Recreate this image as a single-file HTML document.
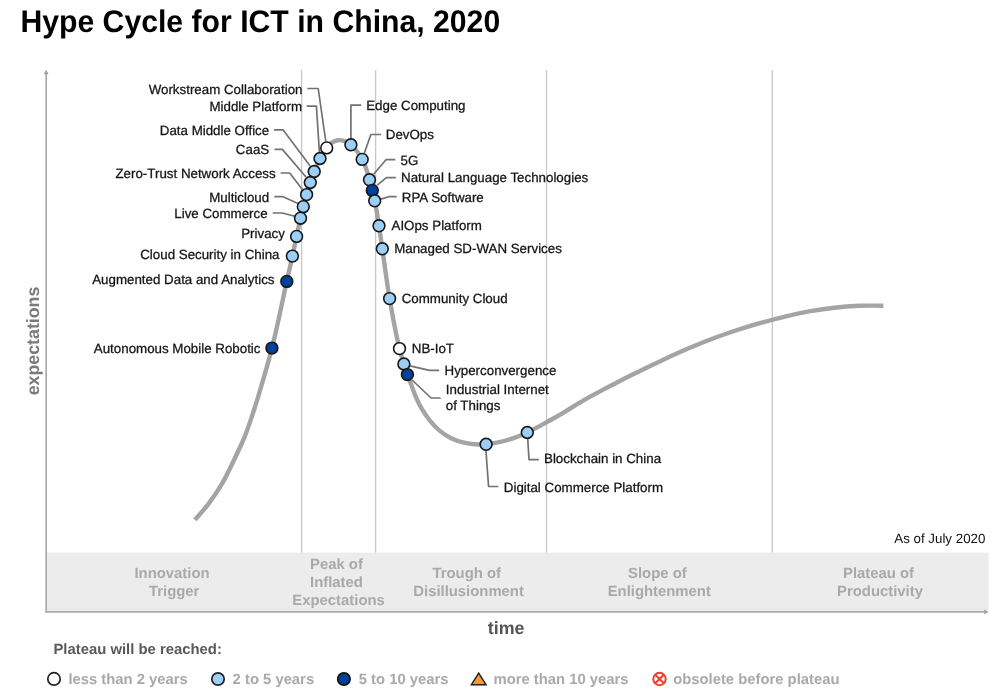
<!DOCTYPE html>
<html lang="en"><head><meta charset="utf-8"><title>Hype Cycle for ICT in China, 2020</title>
<style>
html,body{margin:0;padding:0;background:#fff;}
body{width:998px;height:693px;overflow:hidden;}
svg{display:block;}
text{font-family:"Liberation Sans",Arial,Helvetica,sans-serif;text-rendering:geometricPrecision;}
.lbl{font-size:13.33px;fill:#151515;stroke:#151515;stroke-width:0.28px;}
.ph{font-size:14.87px;font-weight:bold;fill:#a9a9a9;text-anchor:middle;}
.lg{font-size:14.82px;font-weight:bold;fill:#a9a9a9;}
.ld{fill:none;stroke:#727272;stroke-width:1.7;stroke-linejoin:round;}
.mk{stroke:#161616;stroke-width:1.6;}
</style></head><body>
<svg width="998" height="693" viewBox="0 0 998 693">
<rect width="998" height="693" fill="#fff"/>
<text transform="translate(20.4 31.7) scale(1 1.035)" x="0" y="0" style="font-size:30.2px;font-weight:bold;fill:#000;">Hype Cycle for ICT in China, 2020</text>
<rect x="46.2" y="552.6" width="942.3" height="59" fill="#ececec"/>
<line x1="301.6" y1="70" x2="301.6" y2="552.5" stroke="#c8c8c8" stroke-width="1.3"/>
<line x1="375.6" y1="70" x2="375.6" y2="552.5" stroke="#c8c8c8" stroke-width="1.3"/>
<line x1="546.5" y1="70" x2="546.5" y2="552.5" stroke="#c8c8c8" stroke-width="1.3"/>
<line x1="772.3" y1="70" x2="772.3" y2="552.5" stroke="#c8c8c8" stroke-width="1.3"/>
<line x1="46.15" y1="73.5" x2="46.15" y2="612.8" stroke="#a6a6a6" stroke-width="1.6"/>
<path d="M46.2 69.8 L48.6 74.3 L43.8 74.3 Z" fill="#a0a0a0"/>
<line x1="45.4" y1="611.9" x2="984.5" y2="611.9" stroke="#acacac" stroke-width="1.8"/>
<path d="M988.6 611.9 L984.1 614.2 L984.1 609.6 Z" fill="#a0a0a0"/>
<path d="M194.9 519.9 C199.3 514.7 204.0 509.8 208.1 504.4 C212.8 498.3 217.2 491.8 221.2 485.2 C225.9 477.3 229.8 468.8 233.8 460.5 C237.7 452.4 241.6 444.3 245.0 435.9 C248.6 426.9 251.5 417.7 254.5 408.5 C257.0 400.8 259.3 393.0 261.6 385.2 C263.6 378.4 265.6 371.6 267.5 364.7 C269.0 359.2 270.5 353.6 271.9 348.1 C277.6 326.0 281.8 303.6 286.8 281.3 C288.7 272.9 290.6 264.5 292.4 256.1 C293.8 249.5 295.2 243.0 296.6 236.4 C297.9 230.3 299.1 224.2 300.5 218.2 C301.4 214.4 302.3 210.5 303.3 206.7 C304.3 202.7 305.4 198.6 306.6 194.6 C307.8 190.5 309.0 186.5 310.3 182.5 C311.5 178.8 312.8 175.1 314.2 171.5 C315.9 167.1 317.7 162.7 320.0 158.5 C322.0 154.8 324.0 151.1 326.7 147.9 C328.3 146.0 329.8 143.9 331.8 142.6 C333.6 141.4 335.8 140.5 337.9 140.2 C340.1 139.9 342.5 140.4 344.6 141.1 C346.9 141.9 349.0 143.4 350.9 144.8 C355.8 148.4 359.2 154.1 362.2 159.4 C365.7 165.6 367.5 172.9 369.5 179.8 C370.5 183.3 371.4 186.9 372.3 190.4 C373.2 193.9 374.0 197.3 374.7 200.8 C376.5 209.1 377.7 217.4 379.0 225.8 C380.2 233.5 381.2 241.1 382.3 248.8 C384.7 265.4 386.8 282.1 389.6 298.6 C392.5 315.3 395.2 332.2 399.5 348.6 C400.9 353.9 402.4 359.2 404.0 364.4 C405.1 367.8 406.2 371.2 407.4 374.6 C408.5 377.8 409.8 380.9 411.0 384.0 C412.6 388.3 414.0 392.7 415.8 396.9 C417.7 401.3 419.8 405.6 422.3 409.7 C424.7 413.7 427.3 417.5 430.3 421.1 C433.2 424.6 436.4 428.0 439.9 430.9 C443.3 433.7 447.1 436.4 451.1 438.3 C455.1 440.3 459.5 441.6 463.9 442.6 C467.6 443.4 471.4 443.9 475.2 444.2 C478.8 444.5 482.5 444.5 486.1 444.3 C490.5 444.0 494.9 443.1 499.2 442.2 C504.1 441.1 508.9 439.7 513.6 438.1 C518.3 436.5 522.8 434.5 527.3 432.4 C533.8 429.4 540.1 425.8 546.4 422.3 C549.6 420.6 552.8 418.8 556.0 417.0 C559.5 415.0 562.9 412.9 566.4 410.8 C570.4 408.4 574.4 405.8 578.5 403.4 C582.5 401.0 586.5 398.7 590.6 396.4 C594.6 394.2 598.6 392.0 602.7 389.9 C606.7 387.7 610.8 385.8 614.8 383.7 C618.9 381.6 622.9 379.3 627.0 377.3 C631.3 375.1 635.7 373.0 640.0 370.9 C648.1 367.0 656.2 363.0 664.3 359.2 C672.4 355.5 680.5 351.8 688.7 348.3 C696.7 344.9 704.8 341.6 713.0 338.5 C721.0 335.5 729.2 332.7 737.3 330.0 C745.4 327.4 753.5 324.9 761.7 322.6 C769.7 320.4 777.8 318.2 786.0 316.3 C794.0 314.4 802.2 312.7 810.3 311.2 C818.4 309.8 826.5 308.6 834.6 307.7 C842.7 306.8 850.8 306.2 859.0 305.8 C867.1 305.5 875.2 305.7 883.3 305.7" fill="none" stroke="#a4a4a4" stroke-width="4.4" stroke-linecap="butt" stroke-linejoin="round"/>
<polyline class="ld" points="307.3,88.5 318.2,88.5 325.8,141.5"/>
<polyline class="ld" points="306.7,106.1 316.4,106.1 319.4,152.4"/>
<polyline class="ld" points="274.0,129.8 283.0,129.8 310.0,165.8"/>
<polyline class="ld" points="274.5,149.4 282.4,149.4 306.0,177.0"/>
<polyline class="ld" points="280.6,173.0 289.7,173.0 302.4,189.4"/>
<polyline class="ld" points="274.3,196.7 283.0,196.7 298.0,203.6"/>
<polyline class="ld" points="272.7,213.0 282.4,213.0 294.8,216.3"/>
<polyline class="ld" points="361.2,105.2 350.9,105.2 350.9,139.0"/>
<polyline class="ld" points="381.2,134.5 370.9,134.5 364.2,153.5"/>
<polyline class="ld" points="395.3,159.7 386.0,159.7 373.6,174.2"/>
<polyline class="ld" points="395.8,177.6 386.4,177.6 377.3,185.2"/>
<polyline class="ld" points="396.7,196.7 388.8,196.7 380.9,199.1"/>
<polyline class="ld" points="439.1,370.4 429.5,370.4 410.0,365.8"/>
<polyline class="ld" points="440.7,398.0 431.1,398.0 412.0,380.0"/>
<polyline class="ld" points="538.8,459.6 529.0,459.6 527.7,438.5"/>
<polyline class="ld" points="498.3,486.5 488.6,486.5 485.9,450.3"/>
<circle class="mk" cx="271.9" cy="348.1" r="5.9" fill="#00429a"/>
<circle class="mk" cx="286.8" cy="281.4" r="5.9" fill="#00429a"/>
<circle class="mk" cx="292.4" cy="256.1" r="5.9" fill="#9ccff8"/>
<circle class="mk" cx="296.6" cy="236.4" r="5.9" fill="#9ccff8"/>
<circle class="mk" cx="300.5" cy="218.2" r="5.9" fill="#9ccff8"/>
<circle class="mk" cx="303.3" cy="206.7" r="5.9" fill="#9ccff8"/>
<circle class="mk" cx="306.6" cy="194.6" r="5.9" fill="#9ccff8"/>
<circle class="mk" cx="310.3" cy="182.5" r="5.9" fill="#9ccff8"/>
<circle class="mk" cx="314.2" cy="171.5" r="5.9" fill="#9ccff8"/>
<circle class="mk" cx="320.0" cy="158.5" r="5.9" fill="#9ccff8"/>
<circle class="mk" cx="326.7" cy="147.9" r="5.9" fill="#ffffff"/>
<circle class="mk" cx="350.9" cy="144.8" r="5.9" fill="#9ccff8"/>
<circle class="mk" cx="362.2" cy="159.4" r="5.9" fill="#9ccff8"/>
<circle class="mk" cx="369.5" cy="179.8" r="5.9" fill="#9ccff8"/>
<circle class="mk" cx="372.3" cy="190.4" r="5.9" fill="#00429a"/>
<circle class="mk" cx="374.7" cy="200.8" r="5.9" fill="#9ccff8"/>
<circle class="mk" cx="379.0" cy="225.8" r="5.9" fill="#9ccff8"/>
<circle class="mk" cx="382.3" cy="248.8" r="5.9" fill="#9ccff8"/>
<circle class="mk" cx="389.6" cy="298.6" r="5.9" fill="#9ccff8"/>
<circle class="mk" cx="399.5" cy="348.6" r="5.9" fill="#ffffff"/>
<circle class="mk" cx="403.9" cy="364.0" r="5.9" fill="#9ccff8"/>
<circle class="mk" cx="407.4" cy="374.6" r="5.9" fill="#00429a"/>
<circle class="mk" cx="486.1" cy="444.3" r="5.9" fill="#9ccff8"/>
<circle class="mk" cx="527.3" cy="432.5" r="5.9" fill="#9ccff8"/>
<text class="lbl" x="302.5" y="94.0" text-anchor="end">Workstream Collaboration</text>
<text class="lbl" x="302.0" y="111.0" text-anchor="end">Middle Platform</text>
<text class="lbl" x="269.2" y="135.0" text-anchor="end">Data Middle Office</text>
<text class="lbl" x="269.2" y="154.0" text-anchor="end">CaaS</text>
<text class="lbl" x="275.7" y="178.0" text-anchor="end">Zero-Trust Network Access</text>
<text class="lbl" x="269.2" y="202.0" text-anchor="end">Multicloud</text>
<text class="lbl" x="267.6" y="218.0" text-anchor="end">Live Commerce</text>
<text class="lbl" x="284.9" y="238.0" text-anchor="end">Privacy</text>
<text class="lbl" x="279.5" y="259.0" text-anchor="end">Cloud Security in China</text>
<text class="lbl" x="274.5" y="284.0" text-anchor="end">Augmented Data and Analytics</text>
<text class="lbl" x="260.5" y="353.0" text-anchor="end">Autonomous Mobile Robotic</text>
<text class="lbl" x="366.2" y="110.0" text-anchor="start">Edge Computing</text>
<text class="lbl" x="385.8" y="139.0" text-anchor="start">DevOps</text>
<text class="lbl" x="400.5" y="165.0" text-anchor="start">5G</text>
<text class="lbl" x="401.0" y="182.0" text-anchor="start">Natural Language Technologies</text>
<text class="lbl" x="401.8" y="202.0" text-anchor="start">RPA Software</text>
<text class="lbl" x="391.5" y="230.0" text-anchor="start">AIOps Platform</text>
<text class="lbl" x="394.2" y="253.0" text-anchor="start">Managed SD-WAN Services</text>
<text class="lbl" x="401.7" y="303.0" text-anchor="start">Community Cloud</text>
<text class="lbl" x="411.8" y="353.0" text-anchor="start">NB-IoT</text>
<text class="lbl" x="444.5" y="375.0" text-anchor="start">Hyperconvergence</text>
<text class="lbl" x="445.8" y="394.0" text-anchor="start">Industrial Internet</text>
<text class="lbl" x="445.8" y="410.0" text-anchor="start">of Things</text>
<text class="lbl" x="544.0" y="463.0" text-anchor="start">Blockchain in China</text>
<text class="lbl" x="503.8" y="492.0" text-anchor="start">Digital Commerce Platform</text>
<text x="985.4" y="542.6" text-anchor="end" style="font-size:13.33px;fill:#111;">As of July 2020</text>
<text class="ph" x="172.0" y="578.3">Innovation</text>
<text class="ph" x="174.2" y="596.3">Trigger</text>
<text class="ph" x="336.4" y="569.2">Peak of</text>
<text class="ph" x="336.5" y="587.1">Inflated</text>
<text class="ph" x="338.6" y="604.9">Expectations</text>
<text class="ph" x="466.7" y="578.2">Trough of</text>
<text class="ph" x="468.6" y="596.3">Disillusionment</text>
<text class="ph" x="657.4" y="578.2">Slope of</text>
<text class="ph" x="659.3" y="596.3">Enlightenment</text>
<text class="ph" x="878.5" y="578.2">Plateau of</text>
<text class="ph" x="880.0" y="596.3">Productivity</text>
<text transform="translate(38.9 341) rotate(-90)" text-anchor="middle" style="font-size:17.8px;font-weight:bold;fill:#7a7a7a;">expectations</text>
<text x="506.2" y="634.0" text-anchor="middle" style="font-size:17.85px;font-weight:bold;fill:#555;">time</text>
<text x="53.4" y="654.2" style="font-size:14.87px;font-weight:bold;fill:#595959;">Plateau will be reached:</text>
<circle cx="54.0" cy="678.9" r="6.2" fill="#fff" stroke="#222" stroke-width="1.7"/>
<text class="lg" x="68.4" y="684.0">less than 2 years</text>
<circle cx="218.0" cy="679.0" r="6.2" fill="#9ccff8" stroke="#222" stroke-width="1.7"/>
<text class="lg" x="232.6" y="684.0">2 to 5 years</text>
<circle cx="343.9" cy="679.0" r="6.2" fill="#00429a" stroke="#111" stroke-width="1.7"/>
<text class="lg" x="358.7" y="684.0">5 to 10 years</text>
<path d="M478.7 673.2 L486.0 684.7 L471.4 684.7 Z" fill="#f7993a" stroke="#222" stroke-width="1.5" stroke-linejoin="miter"/>
<text class="lg" x="493.5" y="684.0">more than 10 years</text>
<g stroke="#ee3e32" stroke-width="2" fill="none"><circle cx="659.5" cy="679.0" r="6.2" fill="#fff"/><path d="M655.2 674.7 L663.8 683.3 M663.8 674.7 L655.2 683.3"/></g>
<text class="lg" x="673.2" y="684.0">obsolete before plateau</text>
</svg>
</body></html>
